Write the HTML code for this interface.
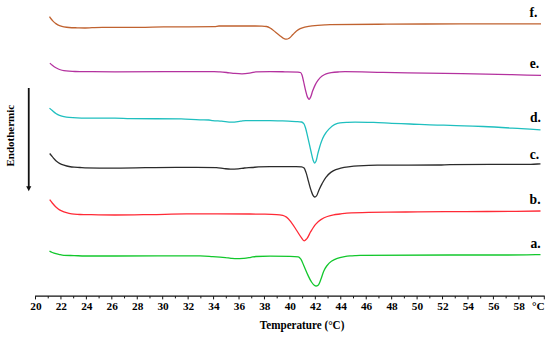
<!DOCTYPE html>
<html><head><meta charset="utf-8"><style>
html,body{margin:0;padding:0;background:#fff;}
body{width:550px;height:338px;overflow:hidden;}
svg{display:block;}
text{font-family:"Liberation Serif",serif;font-weight:bold;fill:#000;}
.tl{font-size:11.3px;}
.xl{font-size:12px;}
.cl{font-size:13.6px;}
.yl{font-size:11px;}
</style></head><body>
<svg width="550" height="338" viewBox="0 0 550 338">
<rect x="0" y="0" width="550" height="338" fill="#ffffff"/>
<path d="M49.50 16.70 C49.93 17.33 50.37 17.94 50.80 18.50 C51.53 19.44 52.27 20.36 53.00 21.10 C53.97 22.07 54.93 22.94 55.90 23.60 C57.10 24.42 58.30 25.13 59.50 25.60 C60.97 26.17 62.43 26.65 63.90 26.90 C65.60 27.19 67.30 27.40 69.00 27.50 C71.67 27.66 74.33 27.72 77.00 27.80 C79.67 27.88 82.33 28.00 85.00 28.00 C87.33 28.00 89.67 27.78 92.00 27.70 C95.43 27.58 98.87 27.40 102.30 27.40 C106.53 27.40 110.77 27.40 115.00 27.40 C123.33 27.40 131.67 27.35 140.00 27.30 C147.87 27.25 155.73 26.97 163.60 26.90 C180.57 26.74 197.53 26.86 214.50 26.60 C216.00 26.58 217.50 26.00 219.00 26.00 C231.00 26.00 243.00 26.00 255.00 26.00 C257.33 26.00 259.67 26.10 262.00 26.20 C263.50 26.26 265.00 26.33 266.50 26.50 C268.03 26.68 269.57 27.70 271.10 28.60 C272.60 29.48 274.10 31.10 275.60 32.30 C277.13 33.53 278.67 34.75 280.20 35.90 C281.40 36.80 282.60 38.05 283.80 38.50 C284.70 38.84 285.60 39.20 286.50 39.20 C287.43 39.20 288.37 38.68 289.30 38.20 C290.50 37.58 291.70 35.72 292.90 34.50 C294.10 33.28 295.30 31.82 296.50 30.90 C297.73 29.95 298.97 29.14 300.20 28.60 C301.70 27.94 303.20 27.46 304.70 27.10 C307.13 26.52 309.57 26.05 312.00 25.80 C316.33 25.35 320.67 25.11 325.00 24.90 C326.67 24.82 328.33 24.73 330.00 24.70 C349.00 24.37 368.00 24.31 387.00 24.20 C411.67 24.06 436.33 23.90 461.00 23.90 C487.67 23.90 514.33 23.90 541.00 23.90" fill="none" stroke="#c0622f" stroke-width="1.3" stroke-linejoin="round" stroke-linecap="butt"/>
<path d="M49.90 63.10 C50.70 63.90 51.50 64.66 52.30 65.30 C53.50 66.26 54.70 67.13 55.90 67.80 C57.10 68.47 58.30 69.08 59.50 69.50 C60.97 70.01 62.43 70.49 63.90 70.70 C65.60 70.95 67.30 71.09 69.00 71.20 C71.00 71.33 73.00 71.46 75.00 71.50 C78.33 71.56 81.67 71.57 85.00 71.60 C95.00 71.68 105.00 71.80 115.00 71.80 C148.00 71.80 181.00 71.60 214.00 71.60 C216.00 71.60 218.00 71.77 220.00 71.90 C222.23 72.04 224.47 72.27 226.70 72.50 C228.83 72.72 230.97 73.11 233.10 73.30 C236.07 73.56 239.03 73.90 242.00 73.90 C244.97 73.90 247.93 73.35 250.90 72.90 C252.60 72.64 254.30 71.85 256.00 71.80 C260.67 71.66 265.33 71.60 270.00 71.60 C275.00 71.60 280.00 71.71 285.00 71.80 C289.33 71.87 293.67 71.89 298.00 72.10 C298.83 72.14 299.67 72.24 300.50 72.50 C301.00 72.66 301.50 73.82 302.00 75.00 C302.50 76.18 303.00 78.97 303.50 81.10 C304.17 83.94 304.83 87.47 305.50 90.10 C306.17 92.72 306.83 95.80 307.50 97.10 C308.03 98.14 308.57 99.30 309.10 99.30 C309.60 99.30 310.10 98.07 310.60 97.10 C311.27 95.81 311.93 92.89 312.60 91.10 C313.43 88.87 314.27 86.75 315.10 85.10 C316.10 83.12 317.10 81.38 318.10 80.10 C319.43 78.39 320.77 76.95 322.10 76.00 C323.43 75.05 324.77 74.25 326.10 73.80 C327.80 73.23 329.50 72.82 331.20 72.60 C333.47 72.30 335.73 72.13 338.00 72.00 C340.33 71.87 342.67 71.70 345.00 71.70 C357.67 71.70 370.33 72.18 383.00 72.40 C397.50 72.65 412.00 72.86 426.50 73.10 C438.33 73.30 450.17 73.48 462.00 73.70 C478.60 74.00 495.20 74.33 511.80 74.70 C521.53 74.91 531.27 75.15 541.00 75.40" fill="none" stroke="#b4329f" stroke-width="1.3" stroke-linejoin="round" stroke-linecap="butt"/>
<path d="M49.50 108.10 C50.43 108.97 51.37 109.81 52.30 110.60 C53.50 111.62 54.70 112.73 55.90 113.50 C57.10 114.27 58.30 114.94 59.50 115.40 C60.97 115.96 62.43 116.42 63.90 116.70 C65.60 117.02 67.30 117.25 69.00 117.40 C71.67 117.64 74.33 117.80 77.00 117.90 C79.67 118.00 82.33 118.08 85.00 118.10 C95.00 118.17 105.00 118.14 115.00 118.20 C120.10 118.23 125.20 118.54 130.30 118.60 C147.27 118.78 164.23 118.69 181.20 118.90 C187.47 118.98 193.73 119.79 200.00 119.90 C202.97 119.95 205.93 119.93 208.90 120.00 C210.17 120.03 211.43 120.47 212.70 120.60 C215.67 120.90 218.63 120.97 221.60 121.20 C225.00 121.46 228.40 122.10 231.80 122.10 C234.77 122.10 237.73 121.52 240.70 121.20 C242.40 121.01 244.10 120.60 245.80 120.60 C253.87 120.60 261.93 120.60 270.00 120.60 C274.23 120.60 278.47 120.76 282.70 120.90 C287.13 121.04 291.57 121.32 296.00 121.60 C297.83 121.71 299.67 121.73 301.50 122.00 C302.27 122.11 303.03 122.74 303.80 123.60 C304.33 124.20 304.87 125.90 305.40 127.50 C306.17 129.81 306.93 133.66 307.70 136.90 C308.77 141.41 309.83 146.49 310.90 151.00 C311.67 154.24 312.43 158.35 313.20 160.40 C313.63 161.56 314.07 163.10 314.50 163.10 C315.00 163.10 315.50 162.15 316.00 161.20 C316.63 160.00 317.27 155.79 317.90 153.40 C318.97 149.38 320.03 145.30 321.10 142.40 C322.13 139.59 323.17 137.17 324.20 135.40 C325.77 132.72 327.33 130.68 328.90 129.10 C330.73 127.25 332.57 125.54 334.40 124.70 C336.27 123.84 338.13 123.14 340.00 122.90 C342.17 122.63 344.33 122.51 346.50 122.40 C349.33 122.26 352.17 122.10 355.00 122.10 C361.20 122.10 367.40 122.25 373.60 122.40 C379.67 122.55 385.73 123.04 391.80 123.30 C397.87 123.56 403.93 123.76 410.00 124.00 C419.10 124.36 428.20 124.90 437.30 125.10 C441.53 125.19 445.77 125.21 450.00 125.30 C461.07 125.53 472.13 126.01 483.20 126.50 C495.93 127.06 508.67 127.93 521.40 128.70 C527.77 129.08 534.13 129.49 540.50 129.90" fill="none" stroke="#1fbfbf" stroke-width="1.3" stroke-linejoin="round" stroke-linecap="butt"/>
<path d="M49.70 153.50 C50.57 154.61 51.43 155.69 52.30 156.70 C53.50 158.11 54.70 159.65 55.90 160.70 C57.10 161.75 58.30 162.67 59.50 163.30 C60.97 164.07 62.43 164.62 63.90 165.10 C65.60 165.66 67.30 166.19 69.00 166.50 C70.70 166.81 72.40 167.07 74.10 167.20 C76.03 167.35 77.97 167.39 79.90 167.50 C81.60 167.59 83.30 167.77 85.00 167.80 C95.00 168.01 105.00 168.10 115.00 168.10 C135.33 168.10 155.67 167.30 176.00 167.30 C182.80 167.30 189.60 167.30 196.40 167.30 C203.10 167.30 209.80 167.40 216.50 167.60 C219.07 167.68 221.63 168.35 224.20 168.60 C226.30 168.81 228.40 169.10 230.50 169.10 C233.07 169.10 235.63 169.02 238.20 168.90 C240.30 168.81 242.40 168.19 244.50 168.00 C247.00 167.77 249.50 167.69 252.00 167.50 C254.17 167.33 256.33 166.99 258.50 166.90 C262.33 166.74 266.17 166.60 270.00 166.60 C278.67 166.60 287.33 166.60 296.00 166.60 C297.87 166.60 299.73 166.66 301.60 166.80 C302.43 166.86 303.27 167.37 304.10 168.10 C304.73 168.65 305.37 170.65 306.00 172.40 C306.80 174.61 307.60 178.24 308.40 181.10 C309.23 184.08 310.07 187.52 310.90 189.90 C311.73 192.28 312.57 195.00 313.40 195.90 C313.90 196.44 314.40 197.00 314.90 197.00 C315.43 197.00 315.97 196.45 316.50 195.90 C317.33 195.04 318.17 191.74 319.00 189.90 C320.03 187.62 321.07 185.48 322.10 183.60 C323.37 181.30 324.63 179.01 325.90 177.40 C327.53 175.33 329.17 173.55 330.80 172.40 C332.47 171.22 334.13 170.37 335.80 169.70 C337.47 169.03 339.13 168.47 340.80 168.10 C343.27 167.56 345.73 167.21 348.20 166.90 C351.53 166.48 354.87 166.09 358.20 165.90 C364.57 165.54 370.93 165.24 377.30 165.20 C397.87 165.06 418.43 165.15 439.00 165.00 C442.67 164.97 446.33 164.63 450.00 164.60 C476.97 164.37 503.93 164.54 530.90 164.30 C534.10 164.27 537.30 163.98 540.50 163.80" fill="none" stroke="#2b2b2b" stroke-width="1.3" stroke-linejoin="round" stroke-linecap="butt"/>
<path d="M49.70 199.70 C50.57 200.86 51.43 201.97 52.30 203.00 C53.50 204.43 54.70 205.88 55.90 207.00 C57.10 208.12 58.30 209.20 59.50 209.90 C60.97 210.76 62.43 211.39 63.90 211.90 C65.60 212.49 67.30 212.96 69.00 213.30 C70.70 213.64 72.40 213.94 74.10 214.10 C76.03 214.29 77.97 214.44 79.90 214.50 C81.60 214.55 83.30 214.57 85.00 214.60 C95.00 214.77 105.00 215.00 115.00 215.00 C126.87 215.00 138.73 214.77 150.60 214.60 C162.47 214.43 174.33 213.90 186.20 213.90 C207.47 213.90 228.73 213.93 250.00 214.00 C254.93 214.02 259.87 214.10 264.80 214.20 C268.73 214.28 272.67 214.37 276.60 214.60 C278.63 214.72 280.67 214.97 282.70 215.40 C283.97 215.67 285.23 216.31 286.50 217.10 C288.20 218.16 289.90 220.62 291.60 222.80 C293.30 224.98 295.00 227.91 296.70 230.50 C298.20 232.78 299.70 235.43 301.20 237.40 C302.17 238.67 303.13 240.80 304.10 240.80 C305.03 240.80 305.97 239.60 306.90 238.60 C308.17 237.24 309.43 233.78 310.70 231.70 C312.40 228.90 314.10 225.98 315.80 224.10 C317.50 222.22 319.20 220.68 320.90 219.60 C323.03 218.25 325.17 217.21 327.30 216.50 C329.40 215.80 331.50 215.28 333.60 214.90 C335.73 214.51 337.87 214.29 340.00 214.00 C342.27 213.69 344.53 213.23 346.80 213.10 C354.07 212.68 361.33 212.52 368.60 212.40 C380.97 212.19 393.33 212.13 405.70 212.00 C418.80 211.86 431.90 211.65 445.00 211.60 C459.00 211.55 473.00 211.55 487.00 211.50 C504.83 211.43 522.67 211.24 540.50 211.00" fill="none" stroke="#ff2a36" stroke-width="1.3" stroke-linejoin="round" stroke-linecap="butt"/>
<path d="M49.50 251.20 C50.43 251.69 51.37 252.14 52.30 252.50 C53.50 252.97 54.70 253.36 55.90 253.70 C57.10 254.04 58.30 254.36 59.50 254.60 C60.97 254.89 62.43 255.22 63.90 255.30 C67.30 255.49 70.70 255.49 74.10 255.60 C77.73 255.72 81.37 256.00 85.00 256.00 C95.00 256.00 105.00 256.00 115.00 256.00 C143.33 256.00 171.67 255.90 200.00 255.90 C204.23 255.90 208.47 256.33 212.70 256.60 C216.97 256.88 221.23 257.17 225.50 257.60 C227.33 257.78 229.17 258.14 231.00 258.30 C233.00 258.48 235.00 258.70 237.00 258.70 C239.33 258.70 241.67 258.49 244.00 258.30 C246.30 258.11 248.60 257.65 250.90 257.30 C252.60 257.04 254.30 256.57 256.00 256.50 C260.67 256.30 265.33 256.20 270.00 256.20 C276.67 256.20 283.33 256.27 290.00 256.40 C292.77 256.45 295.53 256.53 298.30 256.90 C299.10 257.01 299.90 257.96 300.70 258.90 C301.87 260.27 303.03 263.97 304.20 266.60 C305.40 269.30 306.60 272.37 307.80 274.90 C308.97 277.36 310.13 279.98 311.30 281.70 C312.30 283.17 313.30 284.71 314.30 285.30 C314.87 285.63 315.43 286.00 316.00 286.00 C316.80 286.00 317.60 285.51 318.40 284.90 C319.20 284.29 320.00 281.59 320.80 279.60 C321.77 277.20 322.73 273.41 323.70 271.30 C324.70 269.11 325.70 267.32 326.70 266.00 C328.27 263.93 329.83 262.25 331.40 261.20 C333.37 259.88 335.33 258.92 337.30 258.30 C339.30 257.67 341.30 257.27 343.30 256.90 C345.53 256.49 347.77 256.09 350.00 255.90 C351.67 255.76 353.33 255.68 355.00 255.60 C356.67 255.52 358.33 255.42 360.00 255.40 C390.00 255.08 420.00 255.00 450.00 255.00 C469.33 255.00 488.67 255.00 508.00 255.00 C518.83 255.00 529.67 254.78 540.50 254.60" fill="none" stroke="#12c72c" stroke-width="1.3" stroke-linejoin="round" stroke-linecap="butt"/>
<line x1="35.10" y1="296.20" x2="544.70" y2="296.20" stroke="#111" stroke-width="1.3"/>
<line x1="35.50" y1="296.20" x2="35.50" y2="299.40" stroke="#111" stroke-width="1"/>
<line x1="48.22" y1="296.20" x2="48.22" y2="298.40" stroke="#111" stroke-width="1"/>
<line x1="60.94" y1="296.20" x2="60.94" y2="299.40" stroke="#111" stroke-width="1"/>
<line x1="73.66" y1="296.20" x2="73.66" y2="298.40" stroke="#111" stroke-width="1"/>
<line x1="86.38" y1="296.20" x2="86.38" y2="299.40" stroke="#111" stroke-width="1"/>
<line x1="99.10" y1="296.20" x2="99.10" y2="298.40" stroke="#111" stroke-width="1"/>
<line x1="111.82" y1="296.20" x2="111.82" y2="299.40" stroke="#111" stroke-width="1"/>
<line x1="124.54" y1="296.20" x2="124.54" y2="298.40" stroke="#111" stroke-width="1"/>
<line x1="137.26" y1="296.20" x2="137.26" y2="299.40" stroke="#111" stroke-width="1"/>
<line x1="149.98" y1="296.20" x2="149.98" y2="298.40" stroke="#111" stroke-width="1"/>
<line x1="162.70" y1="296.20" x2="162.70" y2="299.40" stroke="#111" stroke-width="1"/>
<line x1="175.42" y1="296.20" x2="175.42" y2="298.40" stroke="#111" stroke-width="1"/>
<line x1="188.14" y1="296.20" x2="188.14" y2="299.40" stroke="#111" stroke-width="1"/>
<line x1="200.86" y1="296.20" x2="200.86" y2="298.40" stroke="#111" stroke-width="1"/>
<line x1="213.58" y1="296.20" x2="213.58" y2="299.40" stroke="#111" stroke-width="1"/>
<line x1="226.30" y1="296.20" x2="226.30" y2="298.40" stroke="#111" stroke-width="1"/>
<line x1="239.02" y1="296.20" x2="239.02" y2="299.40" stroke="#111" stroke-width="1"/>
<line x1="251.74" y1="296.20" x2="251.74" y2="298.40" stroke="#111" stroke-width="1"/>
<line x1="264.46" y1="296.20" x2="264.46" y2="299.40" stroke="#111" stroke-width="1"/>
<line x1="277.18" y1="296.20" x2="277.18" y2="298.40" stroke="#111" stroke-width="1"/>
<line x1="289.90" y1="296.20" x2="289.90" y2="299.40" stroke="#111" stroke-width="1"/>
<line x1="302.62" y1="296.20" x2="302.62" y2="298.40" stroke="#111" stroke-width="1"/>
<line x1="315.34" y1="296.20" x2="315.34" y2="299.40" stroke="#111" stroke-width="1"/>
<line x1="328.06" y1="296.20" x2="328.06" y2="298.40" stroke="#111" stroke-width="1"/>
<line x1="340.78" y1="296.20" x2="340.78" y2="299.40" stroke="#111" stroke-width="1"/>
<line x1="353.50" y1="296.20" x2="353.50" y2="298.40" stroke="#111" stroke-width="1"/>
<line x1="366.22" y1="296.20" x2="366.22" y2="299.40" stroke="#111" stroke-width="1"/>
<line x1="378.94" y1="296.20" x2="378.94" y2="298.40" stroke="#111" stroke-width="1"/>
<line x1="391.66" y1="296.20" x2="391.66" y2="299.40" stroke="#111" stroke-width="1"/>
<line x1="404.38" y1="296.20" x2="404.38" y2="298.40" stroke="#111" stroke-width="1"/>
<line x1="417.10" y1="296.20" x2="417.10" y2="299.40" stroke="#111" stroke-width="1"/>
<line x1="429.82" y1="296.20" x2="429.82" y2="298.40" stroke="#111" stroke-width="1"/>
<line x1="442.54" y1="296.20" x2="442.54" y2="299.40" stroke="#111" stroke-width="1"/>
<line x1="455.26" y1="296.20" x2="455.26" y2="298.40" stroke="#111" stroke-width="1"/>
<line x1="467.98" y1="296.20" x2="467.98" y2="299.40" stroke="#111" stroke-width="1"/>
<line x1="480.70" y1="296.20" x2="480.70" y2="298.40" stroke="#111" stroke-width="1"/>
<line x1="493.42" y1="296.20" x2="493.42" y2="299.40" stroke="#111" stroke-width="1"/>
<line x1="506.14" y1="296.20" x2="506.14" y2="298.40" stroke="#111" stroke-width="1"/>
<line x1="518.86" y1="296.20" x2="518.86" y2="299.40" stroke="#111" stroke-width="1"/>
<line x1="531.58" y1="296.20" x2="531.58" y2="298.40" stroke="#111" stroke-width="1"/>
<line x1="544.30" y1="296.20" x2="544.30" y2="299.40" stroke="#111" stroke-width="1"/>
<text x="35.90" y="310.4" text-anchor="middle" class="tl">20</text>
<text x="61.34" y="310.4" text-anchor="middle" class="tl">22</text>
<text x="86.78" y="310.4" text-anchor="middle" class="tl">24</text>
<text x="112.22" y="310.4" text-anchor="middle" class="tl">26</text>
<text x="137.66" y="310.4" text-anchor="middle" class="tl">28</text>
<text x="163.10" y="310.4" text-anchor="middle" class="tl">30</text>
<text x="188.54" y="310.4" text-anchor="middle" class="tl">32</text>
<text x="213.98" y="310.4" text-anchor="middle" class="tl">34</text>
<text x="239.42" y="310.4" text-anchor="middle" class="tl">36</text>
<text x="264.86" y="310.4" text-anchor="middle" class="tl">38</text>
<text x="290.30" y="310.4" text-anchor="middle" class="tl">40</text>
<text x="315.74" y="310.4" text-anchor="middle" class="tl">42</text>
<text x="341.18" y="310.4" text-anchor="middle" class="tl">44</text>
<text x="366.62" y="310.4" text-anchor="middle" class="tl">46</text>
<text x="392.06" y="310.4" text-anchor="middle" class="tl">48</text>
<text x="417.50" y="310.4" text-anchor="middle" class="tl">50</text>
<text x="442.94" y="310.4" text-anchor="middle" class="tl">52</text>
<text x="468.38" y="310.4" text-anchor="middle" class="tl">54</text>
<text x="493.82" y="310.4" text-anchor="middle" class="tl">56</text>
<text x="519.26" y="310.4" text-anchor="middle" class="tl">58</text>
<text x="544.6" y="310.4" text-anchor="end" class="tl">°C</text>
<text x="302.1" y="328.8" text-anchor="middle" class="xl" textLength="84.5" lengthAdjust="spacingAndGlyphs">Temperature (°C)</text>
<text x="529.50" y="16.60" class="cl">f.</text>
<text x="529.70" y="67.60" class="cl">e.</text>
<text x="530.00" y="121.80" class="cl">d.</text>
<text x="529.80" y="159.20" class="cl">c.</text>
<text x="529.60" y="203.80" class="cl">b.</text>
<text x="530.40" y="247.50" class="cl">a.</text>
<text transform="translate(14.2 135.7) rotate(-90)" text-anchor="middle" class="yl">Endothermic</text>
<line x1="28.75" y1="88" x2="28.75" y2="187" stroke="#111" stroke-width="1.8"/>
<path d="M26.2 186.2 L31.3 186.2 L28.75 191.2 Z" fill="#111"/>
</svg>
</body></html>
